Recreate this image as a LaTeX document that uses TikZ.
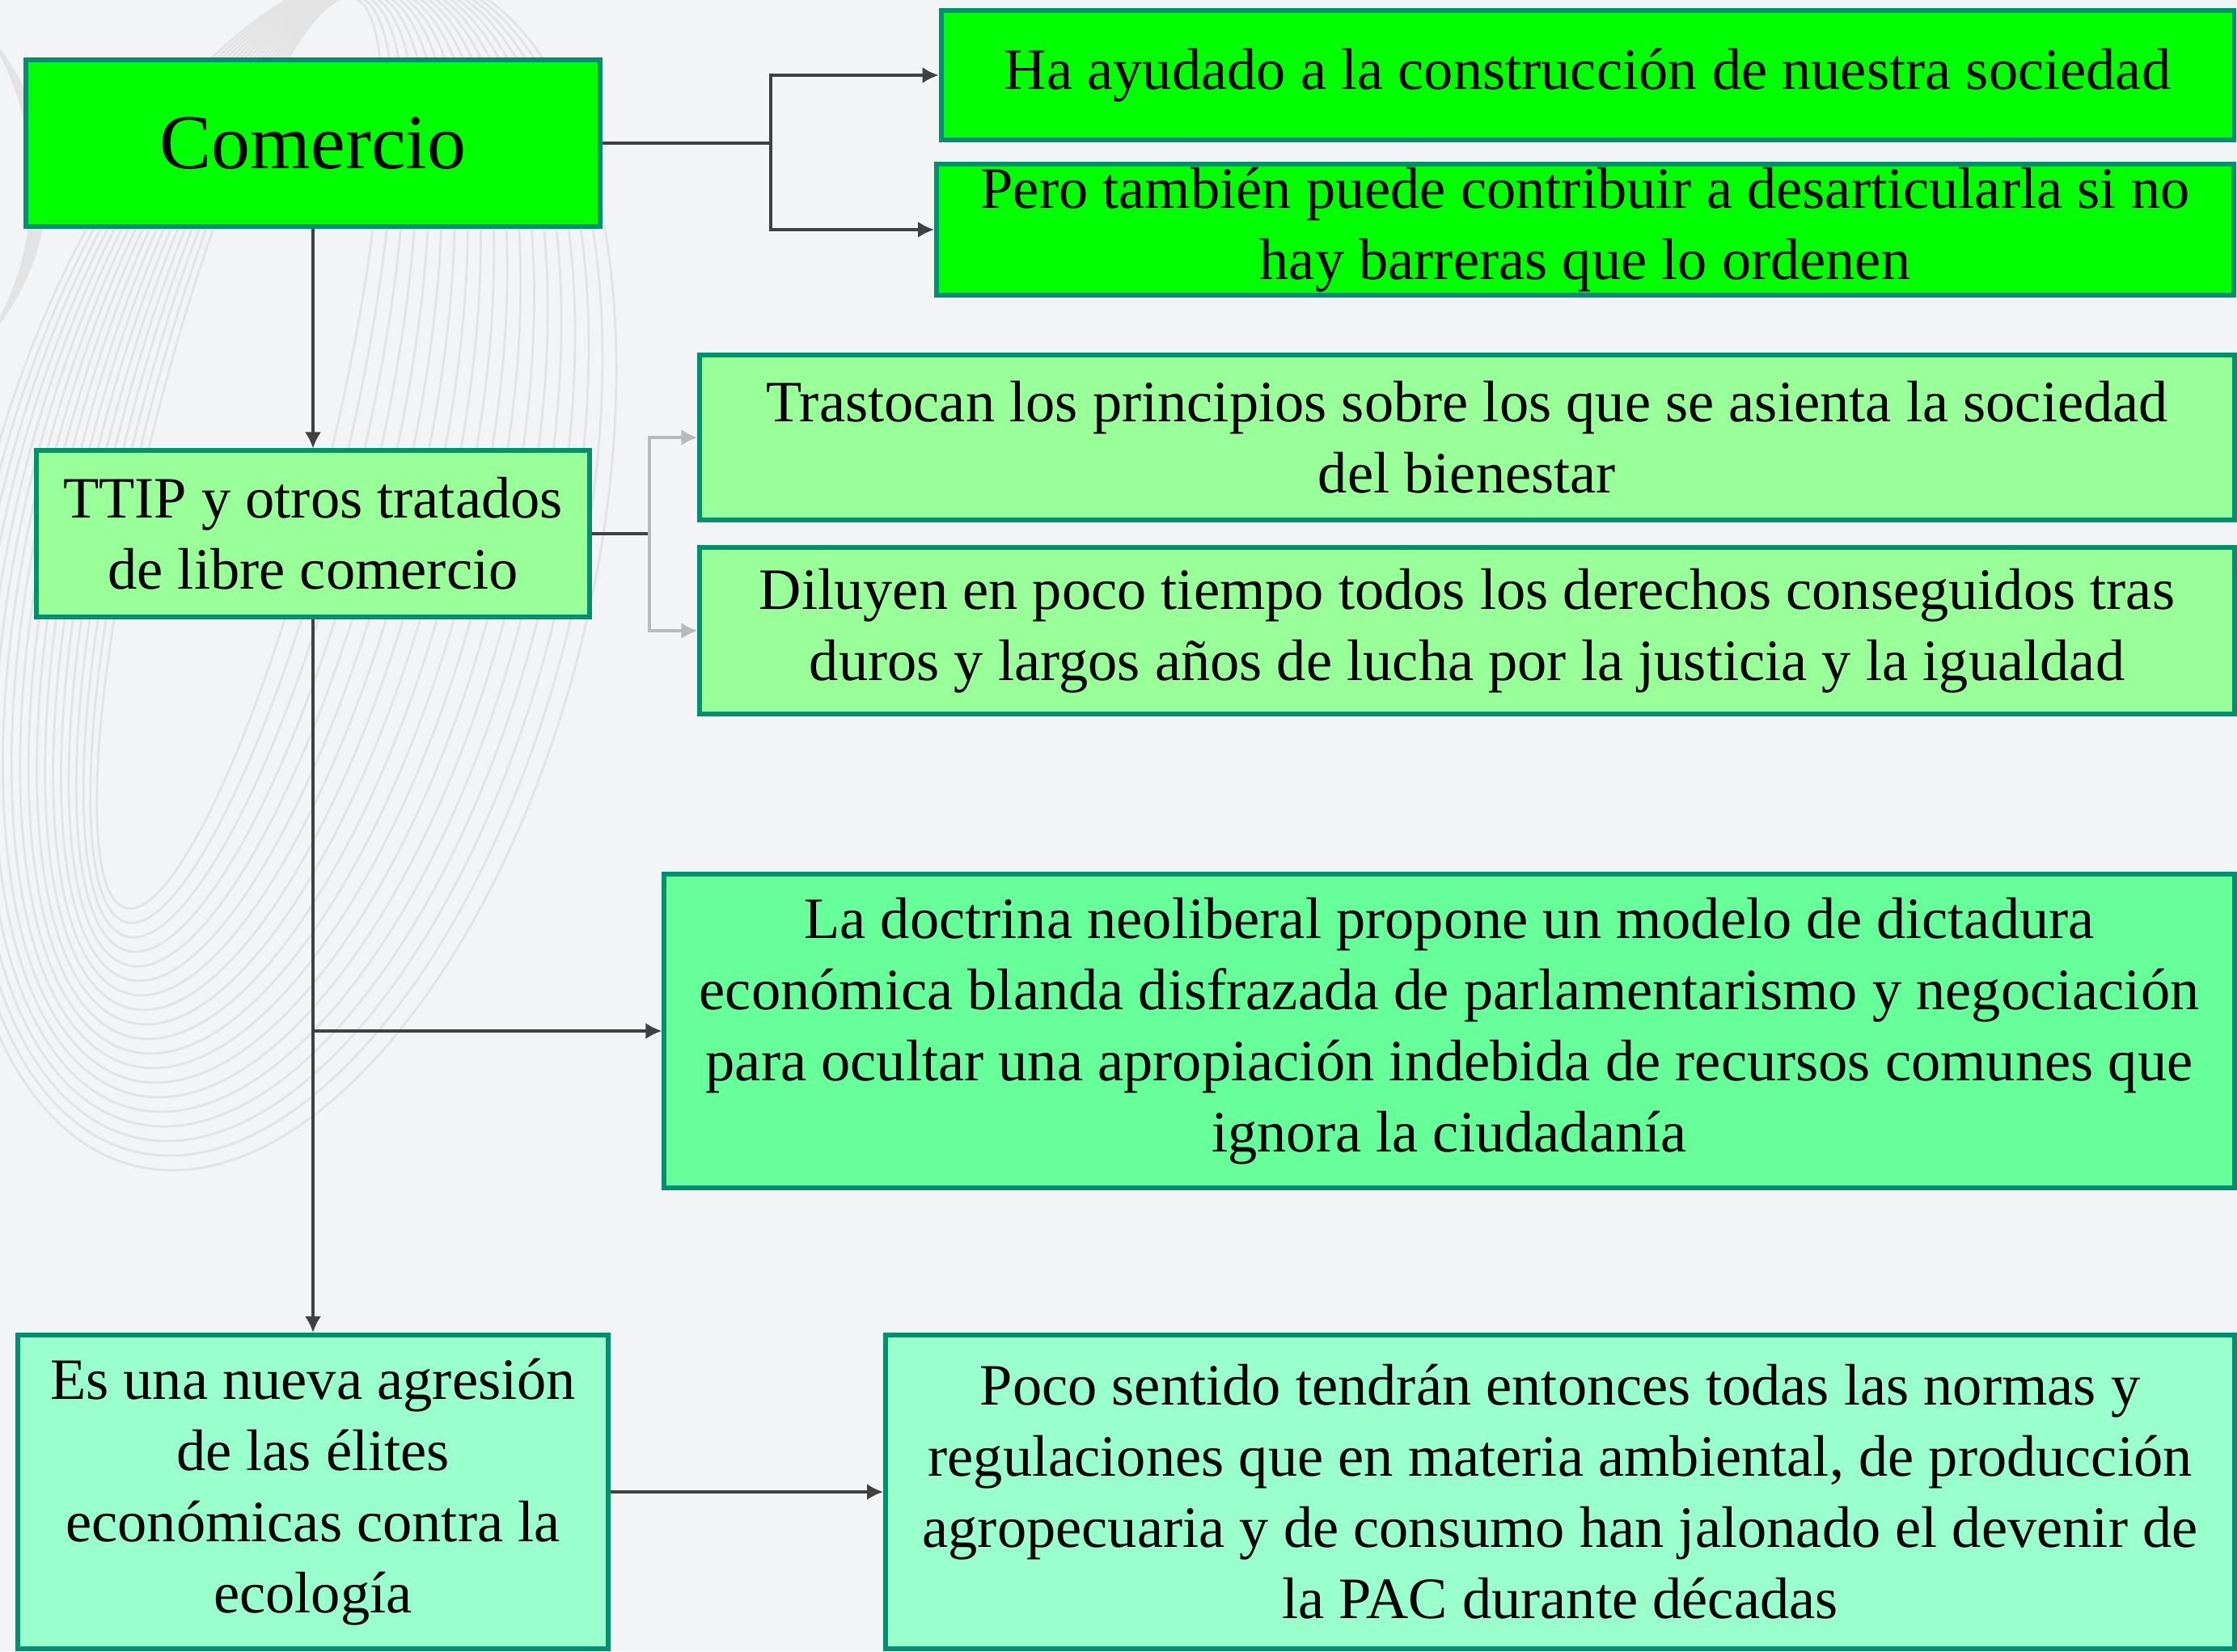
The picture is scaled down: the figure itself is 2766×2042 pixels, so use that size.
\documentclass[tikz,border=0pt]{standalone}
\usepackage{fontspec}
\setmainfont{Liberation Serif}
\usetikzlibrary{arrows.meta, positioning}

\definecolor{bgpage}{HTML}{F3F4F6}
\definecolor{edgeteal}{HTML}{009070}
\definecolor{fillA}{HTML}{00FF00}
\definecolor{fillB}{HTML}{99FF99}
\definecolor{fillC}{HTML}{66FF99}
\definecolor{fillD}{HTML}{99FFCC}
\definecolor{wire}{HTML}{404040}

\begin{document}
\begin{tikzpicture}[
    x=0.01cm, y=-0.01cm,
    box/.style   = {draw=edgeteal, line width=1.7pt, inner sep=0pt, align=center,
                    font=\fontsize{20.6}{25}\selectfont},
    lvlA/.style  = {box, fill=fillA},
    lvlB/.style  = {box, fill=fillB},
    lvlC/.style  = {box, fill=fillC},
    lvlD/.style  = {box, fill=fillD},
    conn/.style  = {draw=wire, line width=0.9pt},
    arr/.style   = {conn, -{Latex[length=2mm, width=2mm]}},
    swirl/.style = {draw=gray!22, line width=0.8pt},
]

%% ---- Page background and decorative swirl ----

\fill[bgpage] (0,0) rectangle (2766,2042);
\begin{scope}
    \clip (0,0) rectangle (2766,2042);
    \foreach \i in {0,...,18}{
        \draw[swirl, rotate around={-14:({350-3*\i},{704-8*\i})}]
            ({350-3*\i}, {704-8*\i}) ellipse ({380-15*\i} and {760-10*\i});
    }
    \foreach \i in {0,...,8}{
        \draw[swirl] ({-260+8*\i}, {230}) ellipse ({300-6*\i} and {330-8*\i});
    }
\end{scope}

%% ---- Boxes ----

\node[lvlA, minimum width=7.09cm, minimum height=2.06cm,
      font=\fontsize{27.3}{32}\selectfont] (com) at (387,177) {Comercio};

\node[lvlA, minimum width=15.98cm, minimum height=1.59cm] (ayuda) at (1963,93)
    {Ha ayudado a la construcción de nuestra sociedad};
\node[lvlA, minimum width=16.03cm, minimum height=1.62cm] (pero) at (1960,284)
    {Pero también puede contribuir a desarticularla si no\\hay barreras que lo ordenen};

\node[lvlB, minimum width=6.84cm, minimum height=2.05cm] (ttip) at (387,660)
    {TTIP y otros tratados\\de libre comercio};

\node[lvlB, minimum width=18.96cm, minimum height=2.03cm] (tras) at (1814,541)
    {Trastocan los principios sobre los que se asienta la sociedad\\del bienestar};
\node[lvlB, minimum width=18.96cm, minimum height=2.05cm] (diluy) at (1814,780)
    {Diluyen en poco tiempo todos los derechos conseguidos tras\\duros y largos años de lucha por la justicia y la igualdad};

\node[lvlC, minimum width=19.40cm, minimum height=3.87cm] (doct) at (1792,1275)
    {La doctrina neoliberal propone un modelo de dictadura\\económica blanda disfrazada de parlamentarismo y negociación\\para ocultar una apropiación indebida de recursos comunes que\\ignora la ciudadanía};

\node[lvlD, minimum width=7.30cm, minimum height=3.88cm] (agres) at (387,1845)
    {Es una nueva agresión\\de las élites\\económicas contra la\\ecología};
\node[lvlD, minimum width=16.67cm, minimum height=3.88cm] (poco) at (1929,1845)
    {Poco sentido tendrán entonces todas las normas y\\regulaciones que en materia ambiental, de producción\\agropecuaria y de consumo han jalonado el devenir de\\la PAC durante décadas};

%% ---- Connectors ----

\coordinate (jcom)  at (953,177);
\coordinate (jttip) at (803,660);

\draw[conn] (com.east) -- (jcom);
\draw[arr]  (jcom) |- (ayuda.west);
\draw[arr]  (jcom) |- (pero.west);

\draw[arr]  (com.south) -- (ttip.north);

\draw[conn] (ttip.east) -- (jttip);
\draw[arr, draw=gray!55] (jttip) |- (tras.west);
\draw[arr, draw=gray!55] (jttip) |- (diluy.west);

\draw[arr]  (ttip.south) -- (agres.north);
\draw[arr]  (ttip.south |- doct.west) -- (doct.west);

\draw[arr]  (agres.east) -- (poco.west);

\end{tikzpicture}
\end{document}
